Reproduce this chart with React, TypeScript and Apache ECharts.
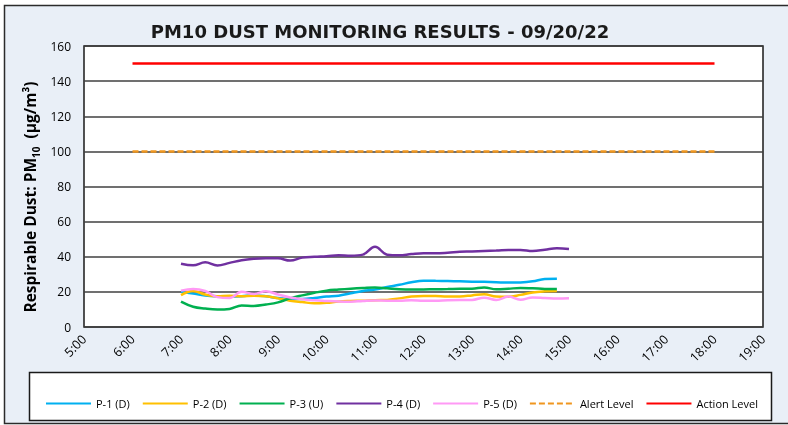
import { useEffect, useRef } from "react";
import * as echarts from "echarts";

const times = [
  "7:00", "7:15", "7:30", "7:45", "8:00", "8:15", "8:30", "8:45",
  "9:00", "9:15", "9:30", "9:45", "10:00", "10:15", "10:30", "10:45",
  "11:00", "11:15", "11:30", "11:45", "12:00", "12:15", "12:30", "12:45",
  "13:00", "13:15", "13:30", "13:45", "14:00", "14:15", "14:30", "14:45", "15:00",
];

const p1 = [20, 19, 18, 17.5, 17.3, 17.5, 18, 17.5, 16.5, 16, 16, 16.5, 17.3, 17.8, 19.2, 20.5,
  21.3, 22.8, 24, 25.5, 26.4, 26.3, 26.2, 26, 25.8, 25.7, 25.5, 25.3, 25.4, 26, 27.3, 27.5];
const p2 = [18.2, 20.5, 18.5, 17.5, 17.8, 17.5, 17.8, 17.5, 16.3, 15, 14.2, 13.5, 13.8, 14.5, 14.8, 15,
  15.3, 15.4, 16.3, 17.3, 17.7, 17.6, 17.4, 17.4, 18, 18.7, 17.3, 17.2, 18.3, 19.7, 20.3, 20.5];
const p3 = [14.4, 11.5, 10.5, 10, 10.3, 12.2, 12, 12.8, 14, 16.3, 18, 19.5, 20.7, 21.3, 21.8, 22.2,
  22.5, 22, 21.5, 21.3, 21.4, 21.5, 21.6, 21.8, 21.8, 22.5, 21.5, 21.8, 22.2, 22, 21.7, 21.6];
const p4 = [36, 35.1, 36.8, 35, 36.5, 38, 38.8, 39.1, 39.1, 37.8, 39.5, 40, 40.3, 40.8, 40.6, 41.2,
  45.7, 41.2, 40.8, 41.5, 42, 42, 42.3, 42.8, 43, 43.3, 43.5, 43.8, 43.9, 43.3, 44, 44.8, 44.4];
const p5 = [20.7, 21.7, 20.5, 17, 16.5, 20.1, 18.8, 20.3, 18.5, 16.8, 15.8, 15.2, 14.8, 14.5, 14.4, 14.8,
  15.1, 15, 15, 15.2, 15, 15, 15.3, 15.4, 15.4, 16.7, 15.4, 17.3, 15.5, 16.8, 16.5, 16.2, 16.3];

const alertLevel = 100;
const actionLevel = 150;
const levelStart = 6;
const levelEnd = 18;
const xMin = 5;
const xMax = 19;

const seriesNames = ["P-1 (D)", "P-2 (D)", "P-3 (U)", "P-4 (D)", "P-5 (D)", "Alert Level", "Action Level"];
const seriesColors = ["#00B0F0", "#FFC000", "#00B050", "#7030A0", "#FF99F5", "#F0961E", "#FF0000"];

const FONT = "'Open Sans', 'Noto Sans', sans-serif";

function toHours(s: string) {
  const [h, m] = s.split(":").map(Number);
  return h + m / 60;
}

export default function App() {
  const ref = useRef<HTMLDivElement>(null);
  useEffect(() => {
    const chart = echarts.init(ref.current!, null, { renderer: "svg" });
    const pair = (vals: number[]) => vals.map((v, i) => [toHours(times[i]), v]);
    const dataSeries = [p1, p2, p3, p4, p5].map((vals, i) => ({
      type: "line",
      name: seriesNames[i],
      data: pair(vals),
      smooth: 0.4,
      symbol: "none",
      lineStyle: { color: seriesColors[i], width: 2.5 },
      itemStyle: { color: seriesColors[i] },
      z: 3,
    }));
    chart.setOption({
      animation: false,
      graphic: [
        {
          type: "rect",
          shape: { x: 4.5, y: 5.5, width: 800, height: 418 },
          style: { fill: "#E9EFF7", stroke: "#2b2b2b", lineWidth: 1.5 },
          z: -10,
        },
        {
          type: "rect",
          shape: { x: 29.5, y: 372.5, width: 742, height: 48 },
          style: { fill: "#FFFFFF", stroke: "#1a1a1a", lineWidth: 1.5 },
          z: -5,
        },
        {
          type: "text",
          x: 380,
          y: 31,
          style: {
            text: "PM10 DUST MONITORING RESULTS - 09/20/22",
            align: "center",
            verticalAlign: "middle",
            fontFamily: "'DejaVu Sans', sans-serif",
            fontWeight: "bold",
            fontSize: 18,
            fill: "#1a1a1a",
          },
        },
        {
          type: "text",
          x: 30,
          y: 197,
          rotation: Math.PI / 2,
          style: {
            text: "{a|Respirable Dust: PM}{s|10}{a|  (µg/m³)}",
            align: "center",
            verticalAlign: "middle",
            rich: {
              a: { fontFamily: FONT, fontWeight: "bold", fontSize: 15.5, lineHeight: 22, verticalAlign: "middle", fill: "#000" },
              s: { fontFamily: FONT, fontWeight: "bold", fontSize: 10, lineHeight: 22, verticalAlign: "bottom", fill: "#000" },
            },
          },
        },
      ],
      grid: {
        left: 84,
        right: 25,
        top: 46,
        bottom: 98,
        show: true,
        backgroundColor: "#FFFFFF",
        borderColor: "#1a1a1a",
        borderWidth: 1.5,
      },
      legend: {
        data: seriesNames,
        left: 40,
        top: 393,
        itemWidth: 45,
        itemHeight: 3,
        itemGap: 12,
        itemStyle: { opacity: 0 },
        textStyle: { fontFamily: FONT, fontSize: 11, color: "#000" },
      },
      xAxis: {
        type: "value",
        min: xMin,
        max: xMax,
        interval: 1,
        splitLine: { show: false },
        axisLine: { show: false },
        axisTick: { show: false },
        axisLabel: {
          rotate: 45,
          margin: 10,
          showMinLabel: true,
          showMaxLabel: true,
          formatter: (v: number) => `${v}:00`,
          fontFamily: FONT,
          fontSize: 12.5,
          color: "#000",
        },
      },
      yAxis: {
        type: "value",
        min: 0,
        max: 160,
        interval: 20,
        axisLine: { show: false },
        axisTick: { show: false },
        splitLine: { lineStyle: { color: "#404040", width: 1.5 } },
        axisLabel: { margin: 13, fontFamily: FONT, fontSize: 12, color: "#000" },
      },
      series: [
        ...dataSeries,
        {
          type: "line",
          name: seriesNames[5],
          data: [[levelStart, alertLevel], [levelEnd, alertLevel]],
          symbol: "none",
          lineStyle: { color: seriesColors[5], width: 2.5, type: [6, 3] },
          itemStyle: { color: seriesColors[5] },
          z: 2,
        },
        {
          type: "line",
          name: seriesNames[6],
          data: [[levelStart, actionLevel], [levelEnd, actionLevel]],
          symbol: "none",
          lineStyle: { color: seriesColors[6], width: 2.5 },
          itemStyle: { color: seriesColors[6] },
          z: 2,
        },
      ],
    });
    return () => chart.dispose();
  }, []);
  return <div ref={ref} style={{ position: "fixed", left: 0, top: 0, width: 788, height: 425 }} />;
}
